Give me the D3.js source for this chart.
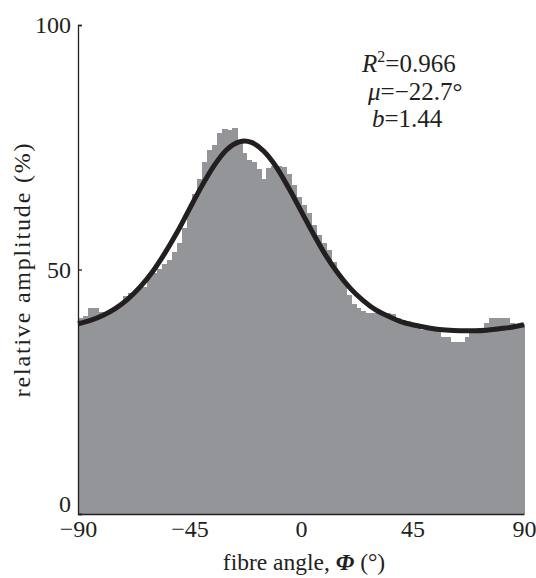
<!DOCTYPE html>
<html>
<head>
<meta charset="utf-8">
<script src="https://cdn.jsdelivr.net/npm/d3@7"></script>
<style>
  body { margin: 0; background: #fff; }
  text { font-family: "Liberation Serif", "Times New Roman", serif; fill: #231f20; }
</style>
</head>
<body>
<div id="plot_div"></div>
<script>
const width  = 536;
const height = 578;
var margin = {top: 25, right: 12, bottom: 64, left: 78}

// histogram: 2 degree bins starting at -90
const binStart = -90
const binWidth = 2
const amplitude = [
  40.0, 40.5, 42.1, 42.1, 41.3, 41.3, 41.5, 42.2, 43.0, 44.5,
  45.2, 45.2, 46.0, 46.5, 48.5, 49.3, 50.2, 51.2, 52.0, 53.5,
  55.5, 58.5, 62.5, 65.5, 68.5, 72.0, 74.5, 75.5, 78.0, 78.8,
  78.5, 79.0, 76.5, 73.8, 72.4, 72.0, 70.5, 68.5, 70.8, 71.2,
  71.2, 71.0, 69.5, 67.3, 64.8, 63.2, 61.5, 59.1, 57.0, 55.4,
  54.0, 51.5, 49.0, 47.2, 44.8, 43.0, 42.1, 41.5, 41.1, 41.1,
  41.1, 41.1, 41.1, 40.8, 40.0, 39.7, 39.5, 39.0, 38.5, 37.6,
  37.6, 37.6, 37.6, 36.2, 36.2, 35.2, 35.2, 35.2, 36.2, 37.0,
  37.6, 37.8, 39.0, 40.1, 40.1, 40.1, 40.1, 39.0, 38.8, 38.8
]

// fitted curve
const fitAngle = [-90, -85, -80, -75, -70, -65, -60, -55, -50, -45, -40, -35, -30, -25, -22.7,
                  -20, -15, -10, -5, 0, 5, 10, 15, 20, 25, 30, 35, 40, 45, 50, 55, 60, 65,
                  70, 75, 80, 85, 90]
const fitValue = [38.9, 39.6, 40.6, 42.0, 43.9, 46.4, 49.5, 53.3, 57.6, 62.4, 67.1, 71.3, 74.5, 76.1, 76.3,
                  76.0, 74.2, 71.0, 66.7, 62.0, 57.3, 52.9, 49.2, 46.1, 43.7, 41.8, 40.5, 39.4, 38.7, 38.2, 37.8, 37.6, 37.5,
                  37.5, 37.6, 37.9, 38.2, 38.7]

const xTicks = [-90, -45, 0, 45, 90]
const yTicks = [0, 50, 100]
const stats = [
  {name: "R", sup: "2", value: "=0.966", dx: 362},
  {name: "\u03bc", sup: "", value: "=\u221222.7\u00b0", dx: 368},
  {name: "b", sup: "", value: "=1.44", dx: 372}
]

const svg = d3.create("svg")
      .attr("width", width)
      .attr("height", height)
      .attr("viewBox", [0, 0, width, height])

const x = d3.scaleLinear()
      .domain([-90, 90])
      .range([margin.left, width - margin.right]);

const y = d3.scaleLinear()
      .domain([0, 100])
      .range([height - margin.bottom, margin.top]);

// histogram bars
svg.append("g")
    .attr("shape-rendering", "crispEdges")
    .selectAll("rect")
    .data(amplitude)
    .join("rect")
    .attr("x", (d, i) => x(binStart + i * binWidth))
    .attr("width", (d, i) => x(binStart + (i + 1) * binWidth) - x(binStart + i * binWidth) + 1)
    .attr("y", d => y(d))
    .attr("height", d => y(0) - y(d))
    .attr("fill", "#939598")

// fitted curve
const fit = fitAngle.map((a, i) => [a, fitValue[i]])
svg.append("path")
    .datum(fit)
    .attr("fill", "none")
    .attr("stroke", "#231f20")
    .attr("stroke-width", 5)
    .attr("d", d3.line().x(d => x(d[0])).y(d => y(d[1])).curve(d3.curveMonotoneX))

// y axis
const yAxis = svg.append("g")
    .attr("transform", `translate(${margin.left},0)`)
    .call(d3.axisLeft(y).tickValues(yTicks).tickSize(-4).tickPadding(7)
          .tickFormat(d3.format("d")))
yAxis.selectAll("path, line").attr("stroke", "#231f20").attr("stroke-width", 1.3)
yAxis.selectAll("text")
    .attr("font-size", 24)
    .attr("font-family", "Liberation Serif")
    .attr("fill", "#231f20")
    .attr("dy", d => d === 0 ? "-0.1em" : "0.32em")

// x axis
const xAxis = svg.append("g")
    .attr("transform", `translate(0,${y(0)})`)
    .call(d3.axisBottom(x).tickValues(xTicks).tickSize(0).tickPadding(6)
          .tickFormat(d => d < 0 ? "\u2212" + Math.abs(d) : d))
xAxis.selectAll("path").attr("stroke", "#231f20").attr("stroke-width", 1.3)
xAxis.selectAll("text")
    .attr("font-size", 24)
    .attr("font-family", "Liberation Serif")
    .attr("fill", "#231f20")

// axis titles
const xt = svg.append("text")
    .attr("x", 304)
    .attr("y", 570)
    .attr("text-anchor", "middle")
    .attr("font-size", 23.5)
xt.append("tspan").text("fibre angle, ")
xt.append("tspan").attr("font-style", "italic").attr("font-weight", "bold").text("\u03a6")
xt.append("tspan").text(" (\u00b0)")

svg.append("text")
    .attr("transform", `translate(30,${y(50)}) rotate(-90)`)
    .attr("text-anchor", "middle")
    .attr("font-size", 24)
    .attr("letter-spacing", 1.8)
    .text("relative amplitude (%)")

// fit statistics
stats.forEach((s, i) => {
  const t = svg.append("text")
      .attr("x", s.dx)
      .attr("y", 72 + i * 27.5)
      .attr("font-size", 25)
  t.append("tspan").attr("font-style", "italic").text(s.name)
  if (s.sup) t.append("tspan").attr("font-size", 16).attr("dy", -10).text(s.sup)
  t.append("tspan").attr("dy", s.sup ? 10 : 0).text(s.value)
})

plot_div.append(svg.node());
</script>
</body>
</html>
